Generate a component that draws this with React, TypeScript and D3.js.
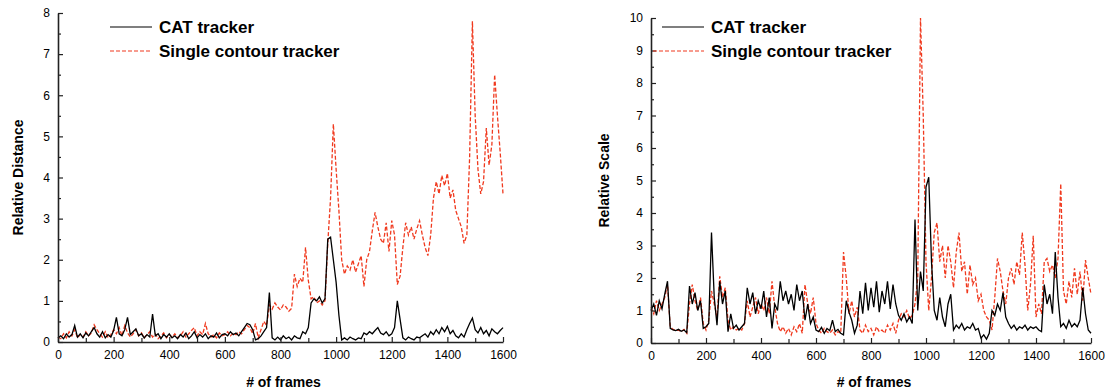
import React, { useEffect, useRef } from "react";
import * as d3 from "d3";

// one value every 10 frames, 0..1600
const STEP = 10;

const distCat = [
  0.10, 0.15, 0.08, 0.20, 0.12, 0.18, 0.40, 0.12, 0.20, 0.10,
  0.22, 0.15, 0.25, 0.35, 0.20, 0.12, 0.25, 0.10, 0.18, 0.12,
  0.28, 0.60, 0.20, 0.15, 0.30, 0.60, 0.18, 0.25, 0.32, 0.15,
  0.20, 0.10, 0.18, 0.12, 0.68, 0.15, 0.20, 0.08, 0.18, 0.12,
  0.20, 0.10, 0.15, 0.08, 0.18, 0.12, 0.22, 0.08, 0.15, 0.25,
  0.10, 0.18, 0.12, 0.20, 0.08, 0.15, 0.12, 0.22, 0.10, 0.18,
  0.20, 0.15, 0.25, 0.18, 0.22, 0.15, 0.25, 0.35, 0.45, 0.42,
  0.30, 0.05, 0.08, 0.15, 0.25, 0.35, 1.20, 0.10, 0.05, 0.12,
  0.05, 0.15, 0.08, 0.12, 0.05, 0.15, 0.10, 0.08, 0.25, 0.20,
  0.35, 0.95, 1.05, 1.00, 1.10, 0.95, 1.05, 2.50, 2.55, 2.00,
  1.45, 0.65, 0.05, 0.10, 0.05, 0.12, 0.08, 0.05, 0.10, 0.08,
  0.22, 0.18, 0.25, 0.20, 0.28, 0.35, 0.22, 0.18, 0.25, 0.15,
  0.20, 0.35, 1.00, 0.55, 0.10, 0.05, 0.12, 0.08, 0.05, 0.12,
  0.10, 0.15, 0.20, 0.12, 0.25, 0.18, 0.30, 0.20, 0.35, 0.25,
  0.38, 0.20, 0.28, 0.15, 0.10, 0.20, 0.12, 0.30, 0.45, 0.58,
  0.30, 0.22, 0.35, 0.20, 0.28, 0.15, 0.32, 0.25, 0.20, 0.28,
  0.35,
];

const distSingle = [
  0.12, 0.08, 0.20, 0.10, 0.25, 0.15, 0.30, 0.10, 0.18, 0.12,
  0.25, 0.15, 0.22, 0.42, 0.30, 0.20, 0.12, 0.25, 0.10, 0.18,
  0.30, 0.20, 0.35, 0.15, 0.40, 0.22, 0.12, 0.20, 0.30, 0.15,
  0.22, 0.10, 0.18, 0.25, 0.12, 0.20, 0.08, 0.15, 0.22, 0.10,
  0.18, 0.12, 0.20, 0.10, 0.15, 0.25, 0.12, 0.20, 0.28, 0.35,
  0.15, 0.25, 0.18, 0.45, 0.20, 0.12, 0.18, 0.10, 0.22, 0.15,
  0.18, 0.25, 0.15, 0.22, 0.18, 0.25, 0.20, 0.30, 0.40, 0.35,
  0.20, 0.45, 0.10, 0.30, 0.50, 0.40, 0.90, 0.80, 0.95, 0.85,
  0.78, 0.90, 0.85, 0.75, 0.82, 1.65, 1.35, 1.55, 1.45, 2.30,
  1.50, 1.05, 1.10, 0.95, 1.00, 0.90, 1.00, 2.40, 3.50, 5.30,
  4.20, 3.20, 2.00, 1.65, 1.85, 1.75, 2.00, 1.70, 1.90, 2.10,
  1.35, 2.00, 2.20, 2.70, 3.15, 2.80, 2.50, 2.40, 2.90, 2.20,
  2.95, 2.60, 1.40, 1.60, 2.30, 2.90, 2.60, 2.80, 2.50, 2.75,
  2.95, 2.60, 2.30, 2.10, 2.60, 3.50, 3.90, 3.60, 4.05, 3.80,
  4.10, 3.50, 3.70, 3.20, 3.00, 2.80, 2.40, 2.60, 4.50, 7.80,
  5.50, 4.20, 3.60, 3.90, 5.20, 4.30, 4.80, 6.50, 5.50, 4.60,
  3.60,
];

const scaleCat = [
  1.00, 1.20, 0.85, 1.30, 1.05, 1.50, 1.90, 0.45, 0.40, 0.38,
  0.42, 0.36, 0.40, 0.32, 1.75, 1.20, 1.55, 1.00, 1.30, 0.45,
  0.50, 0.60, 3.40, 1.40, 0.55, 1.90, 1.20, 1.60, 0.35, 0.90,
  0.45, 0.55, 0.40, 0.50, 0.60, 1.70, 1.20, 1.55, 0.90, 1.30,
  1.05, 1.60, 0.80, 1.40, 0.45, 1.20, 1.00, 1.90, 1.30, 1.60,
  1.20, 1.50, 1.00, 1.80, 1.30, 1.60, 0.70, 1.20, 0.60, 0.80,
  0.40, 0.35, 0.48, 0.30, 0.45, 0.38, 0.70, 0.35, 0.42, 0.30,
  0.25, 1.30, 0.95, 0.70, 0.30, 0.55, 1.60, 0.90, 1.85, 1.00,
  1.70, 1.10, 1.90, 0.95, 1.60, 1.20, 1.90, 1.05, 1.80, 1.20,
  0.85, 0.70, 0.90, 0.65, 0.80, 0.60, 3.80, 1.00, 2.20, 1.60,
  4.80, 5.10, 2.50, 1.00, 0.70, 1.40, 0.80, 0.50, 1.20, 1.50,
  0.40, 0.55, 0.45, 0.60, 0.40, 0.50, 0.45, 0.60, 0.40, 0.45,
  0.15, 0.25, 0.12, 0.30, 1.00, 0.85, 1.20, 1.00, 1.55, 0.80,
  0.60, 0.45, 0.55, 0.40, 0.50, 0.45, 0.55, 0.40, 0.50, 0.45,
  0.50, 0.40, 0.35, 1.80, 1.20, 1.50, 0.90, 2.80, 1.40, 0.50,
  0.60, 0.45, 0.70, 0.50, 0.60, 0.50, 0.70, 1.70, 0.90, 0.40,
  0.30,
];

const scaleSingle = [
  1.10, 0.90, 1.30, 1.00, 1.20, 1.40, 1.80, 0.50, 0.42, 0.38,
  0.40, 0.35, 0.42, 0.30, 1.20, 1.80, 1.30, 1.00, 1.40, 0.60,
  0.40, 0.70, 1.60, 1.20, 0.80, 2.05, 1.40, 1.70, 0.70, 0.40,
  0.50, 0.40, 0.45, 0.40, 0.60, 1.30, 0.80, 1.10, 1.40, 0.90,
  1.20, 1.00, 1.40, 0.90, 1.90, 1.10, 0.60, 0.35, 0.50, 0.30,
  0.45, 0.25, 0.50, 0.35, 0.60, 0.30, 1.80, 1.20, 0.90, 1.40,
  0.60, 0.40, 0.30, 0.45, 0.35, 0.30, 0.40, 0.25, 0.35, 0.30,
  2.80, 2.00, 0.90, 1.30, 0.80, 1.10, 0.40, 0.30, 0.55, 0.35,
  0.45, 0.25, 0.50, 0.35, 0.40, 0.30, 0.55, 0.40, 0.60, 0.30,
  0.70, 0.90, 0.80, 1.00, 0.75, 0.85, 1.20, 2.00, 10.0, 7.00,
  2.50, 1.00, 2.00, 3.40, 3.70, 2.50, 3.00, 2.00, 3.00, 2.50,
  1.70, 2.80, 3.40, 2.20, 2.50, 1.50, 2.40, 1.80, 2.00, 1.30,
  1.50, 1.00, 0.80, 0.70, 0.40, 1.40, 2.60, 2.20, 1.60, 1.20,
  2.00, 2.30, 1.80, 2.50, 2.10, 3.40, 2.40, 1.00, 1.80, 3.30,
  0.80, 1.20, 0.90, 2.50, 2.60, 2.20, 2.40, 2.00, 2.60, 4.90,
  1.60, 1.20, 1.90, 1.40, 2.30, 1.50, 2.20, 1.30, 2.55, 2.00,
  1.50,
];

const seriesNames = ["CAT tracker", "Single contour tracker"];
const RED = "#f0391e";
const FONT = "'Liberation Sans', Arial, sans-serif";

const panels = [
  {
    yTitle: "Relative Distance",
    yMax: 8,
    x0: 58, x1: 503, yTop: 13, yBot: 342,
    titleX: 18,
    cat: distCat, single: distSingle,
    legendX: 110,
  },
  {
    yTitle: "Relative Scale",
    yMax: 10,
    x0: 651, x1: 1091, yTop: 18, yBot: 343,
    titleX: 604,
    cat: scaleCat, single: scaleSingle,
    legendX: 662,
  },
];

const App = () => {
  const ref = useRef<SVGSVGElement>(null);

  useEffect(() => {
    const svg = d3.select(ref.current);
    svg.selectAll("*").remove();

    panels.forEach((p) => {
      const x = d3.scaleLinear().domain([0, 1600]).range([p.x0, p.x1]);
      const y = d3.scaleLinear().domain([0, p.yMax]).range([p.yBot, p.yTop]);
      const g = svg.append("g");

      const line = d3
        .line<number>()
        .x((_, i) => x(i * STEP))
        .y((d) => y(d));

      // red first so black sits on top like the original
      g.append("path")
        .datum(p.single)
        .attr("d", line)
        .attr("fill", "none")
        .attr("stroke", RED)
        .attr("stroke-width", 1.3)
        .attr("stroke-dasharray", "4,2");

      g.append("path")
        .datum(p.cat)
        .attr("d", line)
        .attr("fill", "none")
        .attr("stroke", "#000")
        .attr("stroke-width", 1.3);

      // y axis, major + minor ticks pointing inward
      const yMajor = g
        .append("g")
        .attr("transform", `translate(${p.x0},0)`)
        .call(
          d3.axisLeft(y).ticks(p.yMax).tickFormat(d3.format("d")).tickSizeInner(-5).tickSizeOuter(0).tickPadding(8)
        );
      g.append("g")
        .attr("transform", `translate(${p.x0},0)`)
        .call(
          d3
            .axisLeft(y)
            .tickValues(d3.range(0.5, p.yMax, 1))
            .tickSizeInner(-3)
            .tickSizeOuter(0)
            .tickFormat(() => "")
        )
        .select(".domain")
        .remove();

      // x axis
      const xMajor = g
        .append("g")
        .attr("transform", `translate(0,${p.yBot})`)
        .call(
          d3
            .axisBottom(x)
            .tickValues(d3.range(0, 1601, 200))
            .tickFormat(d3.format("d"))
            .tickSizeInner(-5)
            .tickSizeOuter(0)
            .tickPadding(8)
        );
      g.append("g")
        .attr("transform", `translate(0,${p.yBot})`)
        .call(
          d3
            .axisBottom(x)
            .tickValues(d3.range(100, 1600, 200))
            .tickSizeInner(-4)
            .tickSizeOuter(0)
            .tickFormat(() => "")
        )
        .select(".domain")
        .remove();

      [yMajor, xMajor].forEach((a) => {
        a.selectAll("text").attr("font-family", FONT).attr("font-size", 12).attr("fill", "#000");
        a.select(".domain").attr("stroke-width", 1.6).attr("stroke", "#222");
      });
      g.selectAll(".tick line").attr("stroke", "#222").attr("stroke-width", 1.2);

      // axis titles
      g.append("text")
        .attr("transform", `translate(${p.titleX},${(p.yTop + p.yBot) / 2}) rotate(-90)`)
        .attr("text-anchor", "middle")
        .attr("dy", "0.35em")
        .attr("font-family", FONT)
        .attr("font-weight", "bold")
        .attr("font-size", 14)
        .text(p.yTitle);

      g.append("text")
        .attr("x", (p.x0 + p.x1) / 2 + 3)
        .attr("y", 387)
        .attr("text-anchor", "middle")
        .attr("font-family", FONT)
        .attr("font-weight", "bold")
        .attr("font-size", 14)
        .text("# of frames");

      // legend
      const legendRows = [27, 51];
      seriesNames.forEach((name, i) => {
        g.append("line")
          .attr("x1", i === 1 && p.yMax === 10 ? p.x0 + 2 : p.legendX)
          .attr("x2", p.legendX + 42)
          .attr("y1", legendRows[i])
          .attr("y2", legendRows[i])
          .attr("stroke", i === 0 ? "#000" : RED)
          .attr("stroke-width", 1.2)
          .attr("stroke-dasharray", i === 0 ? null : "4,2");
        g.append("text")
          .attr("x", p.legendX + 49)
          .attr("y", legendRows[i] + 6)
          .attr("font-family", FONT)
          .attr("font-weight", "bold")
          .attr("font-size", 17)
          .text(name);
      });
    });
  }, []);

  return (
    <svg
      ref={ref}
      width={1109}
      height={392}
      style={{ position: "absolute", left: 0, top: 0, background: "#fff" }}
    />
  );
};

export default App;
